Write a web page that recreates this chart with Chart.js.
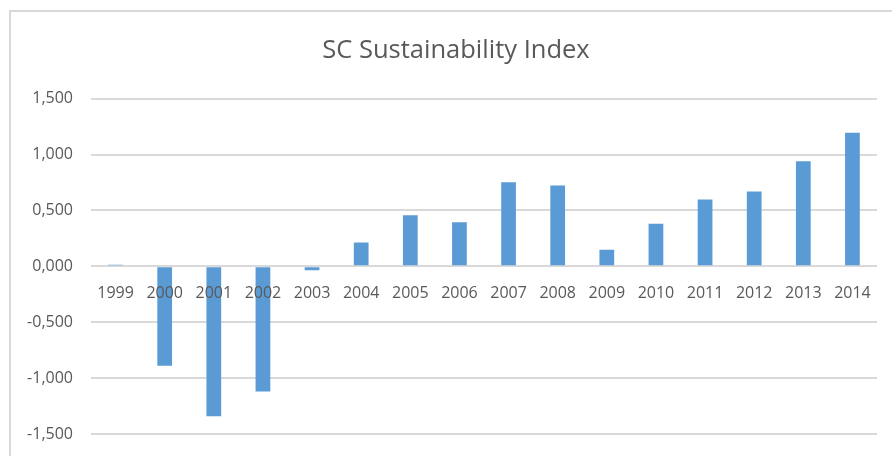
<!DOCTYPE html>
<html>
<head>
<meta charset="utf-8">
<script src="https://cdn.jsdelivr.net/npm/chart.js@4/dist/chart.umd.min.js"></script>
<style>
  html, body { margin: 0; padding: 0; background: #ffffff; overflow: hidden; width: 892px; height: 456px; }
  #frame { position: absolute; left: 9px; top: 10px; width: 900px; height: 520px;
           border-left: 2px solid #d9d9d9; border-top: 2px solid #d9d9d9; background: #fff; }
  #wrap { position: absolute; left: 0; top: 0; width: 881px; height: 478px; }
</style>
</head>
<body>
<div id="frame"><div id="wrap"><canvas id="c"></canvas></div></div>
<script>
const years = ['1999','2000','2001','2002','2003','2004','2005','2006','2007','2008','2009','2010','2011','2012','2013','2014'];
const indexValues = [0.015, -0.89, -1.34, -1.12, -0.035, 0.214, 0.458, 0.395, 0.753, 0.723, 0.149, 0.381, 0.598, 0.670, 0.940, 1.194];
const yMin = -2.0;
const yMax = 1.5;
const yStep = 0.5;
const chartTitle = 'SC Sustainability Index';

const FONT = "'Open Sans', 'DejaVu Sans', sans-serif";
const GREY = '#595959';
const fmt = (v) => Number(v).toFixed(3).replace('.', ',');

// widest y tick label (used to right-align mirrored labels outside the plot)
const mctx = document.createElement('canvas').getContext('2d');
mctx.font = "normal 16px " + FONT;
let widest = 0;
for (let v = yMin; v <= yMax + 1e-9; v += yStep) {
  widest = Math.max(widest, mctx.measureText(fmt(v)).width);
}

new Chart(document.getElementById('c'), {
  type: 'bar',
  data: {
    labels: years,
    datasets: [{
      label: chartTitle,
      data: indexValues,
      backgroundColor: '#5b9bd5',
      borderWidth: 0,
      barPercentage: 0.6,
      categoryPercentage: 0.5
    }]
  },
  options: {
    responsive: true,
    maintainAspectRatio: false,
    animation: false,
    layout: { padding: { left: 24, right: 15, top: 0, bottom: 0 } },
    plugins: {
      legend: { display: false },
      tooltip: { enabled: false },
      title: {
        display: true,
        text: chartTitle,
        color: GREY,
        font: { family: FONT, size: 25.5, weight: 'normal' },
        padding: { top: 23, bottom: 33 }
      }
    },
    scales: {
      x: {
        position: { y: 0 },
        z: 1,
        grid: { display: false, drawTicks: false },
        border: { display: false },
        ticks: {
          z: 1,
          color: GREY,
          font: { family: FONT, size: 16 },
          padding: 17,
          maxRotation: 0,
          autoSkip: false
        }
      },
      y: {
        min: yMin,
        max: yMax,
        afterFit: (s) => { s.width = 56; },
        grid: { color: '#d9d9d9', lineWidth: 2, drawTicks: false },
        border: { display: false },
        ticks: {
          stepSize: yStep,
          color: GREY,
          font: { family: FONT, size: 16 },
          mirror: true,
          crossAlign: 'far',
          padding: -18 - widest,
          callback: fmt
        }
      }
    }
  }
});
</script>
</body>
</html>
